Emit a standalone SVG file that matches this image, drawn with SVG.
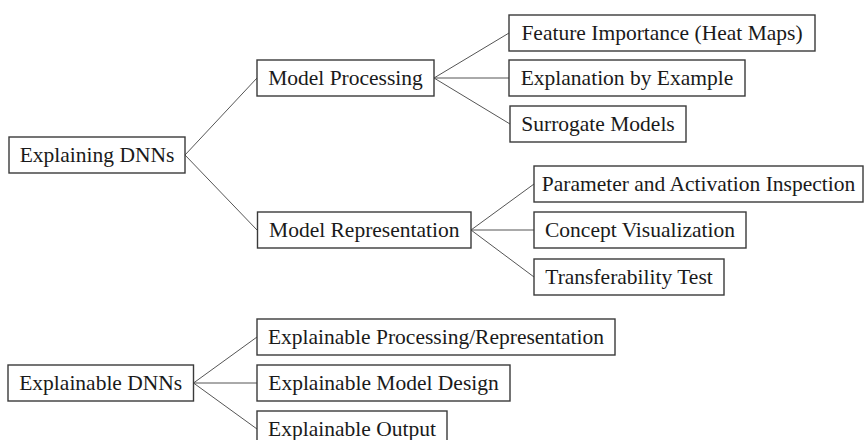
<svg xmlns="http://www.w3.org/2000/svg" width="864" height="440" viewBox="0 0 864 440">
  <style>
    .box { fill: #ffffff; stroke: #3a3a3a; stroke-width: 1.4; }
    .lbl { font-family: "Liberation Serif", "Times New Roman", serif; font-size: 21.5px; fill: #1a1a1a; text-anchor: middle; }
    .edge { fill: none; stroke: #555555; stroke-width: 1; }
  </style>
  <rect width="864" height="440" fill="#ffffff"/>

  <!-- connectors: parent right-edge midpoint to child left-edge midpoint -->
  <g id="connectors">
    <path class="edge" d="M185 155 L257 78 M185 155 L257 230"/>
    <path class="edge" d="M434 78 L509 33 M434 78 L509 78 M434 78 L510 124"/>
    <path class="edge" d="M471 230 L534 184 M471 230 L534 230 M471 230 L534 277"/>
    <path class="edge" d="M193.5 383 L257 337 M193.5 383 L257 383 M193.5 383 L257 429"/>
  </g>

  <!-- tree 1: explaining DNNs -->
  <g id="explaining-dnns">
    <rect class="box" x="9" y="137" width="176" height="36"/>
    <text class="lbl" x="97" y="162">Explaining DNNs</text>
  </g>
  <g id="model-processing">
    <rect class="box" x="257" y="60" width="177" height="36"/>
    <text class="lbl" x="345.5" y="85">Model Processing</text>
  </g>
  <g id="feature-importance">
    <rect class="box" x="509" y="15" width="306" height="36"/>
    <text class="lbl" x="662" y="40">Feature Importance (Heat Maps)</text>
  </g>
  <g id="explanation-by-example">
    <rect class="box" x="509" y="60" width="236" height="36"/>
    <text class="lbl" x="627" y="85">Explanation by Example</text>
  </g>
  <g id="surrogate-models">
    <rect class="box" x="510" y="106" width="176" height="36"/>
    <text class="lbl" x="598" y="131">Surrogate Models</text>
  </g>
  <g id="model-representation">
    <rect class="box" x="257.5" y="212" width="213.5" height="36"/>
    <text class="lbl" x="364.25" y="237">Model Representation</text>
  </g>
  <g id="parameter-activation">
    <rect class="box" x="534" y="166" width="329" height="36"/>
    <text class="lbl" x="698.5" y="191">Parameter and Activation Inspection</text>
  </g>
  <g id="concept-visualization">
    <rect class="box" x="534" y="212" width="212" height="36"/>
    <text class="lbl" x="640" y="237">Concept Visualization</text>
  </g>
  <g id="transferability-test">
    <rect class="box" x="534" y="259" width="190" height="36"/>
    <text class="lbl" x="629" y="284">Transferability Test</text>
  </g>

  <!-- tree 2: explainable DNNs -->
  <g id="explainable-dnns">
    <rect class="box" x="8" y="365" width="185.5" height="36"/>
    <text class="lbl" x="100.75" y="390">Explainable DNNs</text>
  </g>
  <g id="explainable-processing">
    <rect class="box" x="257" y="319" width="358" height="36"/>
    <text class="lbl" x="436" y="344">Explainable Processing/Representation</text>
  </g>
  <g id="explainable-model-design">
    <rect class="box" x="257" y="365" width="253" height="36"/>
    <text class="lbl" x="383.5" y="390">Explainable Model Design</text>
  </g>
  <g id="explainable-output">
    <rect class="box" x="257" y="411" width="190" height="36"/>
    <text class="lbl" x="352" y="436">Explainable Output</text>
  </g>
</svg>
